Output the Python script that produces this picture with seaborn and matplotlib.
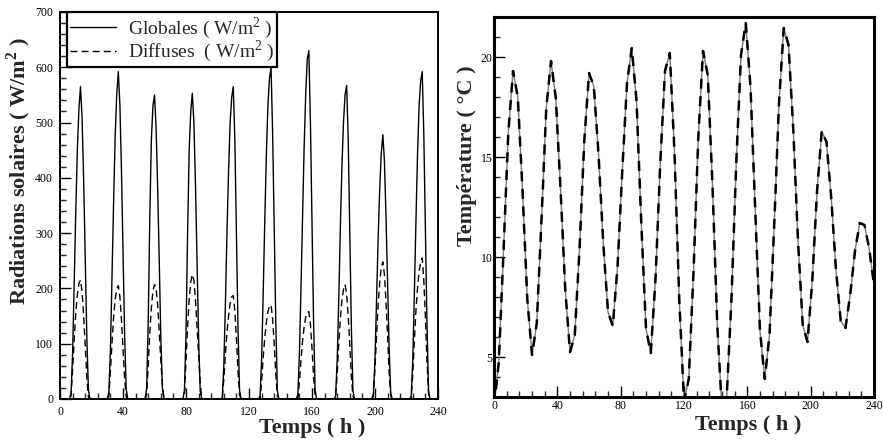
import numpy as np
import pandas as pd
import seaborn as sns
import matplotlib.pyplot as plt
from matplotlib.ticker import MultipleLocator


# heures de jour (7h -> 18h) pour chaque journée
heures_jour = list(range(7, 19))

globales_jours = [
    [11, 85, 215, 340, 452, 525, 565, 508, 395, 254, 113, 17],
    [12, 89, 225, 355, 474, 551, 592, 533, 414, 266, 118, 18],
    [20, 140, 330, 470, 530, 550, 490, 380, 250, 110, 20, 0],
    [15, 120, 300, 450, 520, 553, 500, 390, 250, 110, 15, 0],
    [0, 60, 170, 300, 410, 500, 545, 565, 470, 300, 130, 15],
    [5, 70, 190, 320, 440, 530, 580, 600, 480, 310, 140, 15],
    [8, 80, 200, 330, 455, 550, 615, 630, 500, 320, 140, 15],
    [5, 70, 180, 310, 420, 500, 550, 567, 470, 300, 130, 15],
    [10, 70, 180, 290, 380, 445, 478, 430, 330, 210, 90, 10],
    [5, 70, 190, 320, 440, 530, 575, 592, 480, 310, 140, 15],
]

diffuses_jours = [
    [6, 54, 108, 155, 189, 209, 215, 194, 150, 97, 39, 4],
    [6, 51, 102, 148, 180, 199, 205, 185, 144, 92, 37, 4],
    [8, 60, 120, 165, 195, 207, 200, 170, 120, 70, 25, 0],
    [10, 70, 130, 180, 212, 225, 215, 180, 130, 80, 30, 0],
    [0, 35, 80, 120, 150, 172, 185, 187, 160, 110, 50, 8],
    [0, 30, 75, 110, 138, 158, 168, 170, 145, 100, 45, 6],
    [0, 30, 70, 105, 130, 148, 156, 158, 135, 92, 40, 5],
    [5, 45, 100, 145, 178, 198, 207, 190, 150, 98, 40, 5],
    [5, 55, 115, 170, 210, 238, 248, 225, 175, 115, 48, 6],
    [0, 45, 105, 160, 200, 230, 248, 255, 215, 150, 70, 10],
]

# température toutes les 3 heures, de 0 à 240 h
temps_temp = list(range(0, 241, 3))
temperature = [
    2.5, 4.75, 10.3, 16.2, 19.3, 18.0, 13.3, 7.9, 5.1, 6.7, 11.9, 17.45, 19.8,
    17.95, 13.4, 8.35, 5.25, 6.1, 10.4, 15.8, 19.2, 18.55, 15.15, 10.65, 7.25,
    6.55, 9.5, 14.3, 18.7, 20.45, 17.8, 11.7, 6.4, 5.2, 8.9, 14.7, 19.3, 20.2,
    15.2, 7.85, 2.8, 3.9, 9.25, 15.95, 20.3, 19.1, 13.55, 6.6, 2.3, 3.05, 7.95,
    14.7, 20.1, 21.7, 18.5, 12.3, 6.3, 3.9, 6.1, 11.65, 17.7, 21.45, 20.6, 16.4,
    10.8, 6.6, 5.75, 8.8, 13.25, 16.3, 15.75, 12.95, 9.35, 6.8, 6.45, 8.15,
    10.3, 11.7, 11.6, 10.4, 8.6,
]


def serie_horaire(jours):
    # nuit = 0, on place les valeurs lues pour chaque journée
    valeurs = np.zeros(241)
    for k, jour in enumerate(jours):
        for h, v in zip(heures_jour, jour):
            valeurs[24 * k + h] = v
    return valeurs


rad = pd.DataFrame({
    'temps': np.arange(241),
    'globales': serie_horaire(globales_jours),
    'diffuses': serie_horaire(diffuses_jours),
})
temp = pd.DataFrame({'temps': temps_temp, 'temperature': temperature})

sns.set_style('ticks')
plt.rcParams['font.family'] = ['Liberation Serif', 'DejaVu Serif']
plt.rcParams['mathtext.fontset'] = 'custom'
plt.rcParams['mathtext.rm'] = 'Liberation Serif'
plt.rcParams['mathtext.bf'] = 'Liberation Serif:bold'

fig = plt.figure(figsize=(8.83, 4.42), dpi=100)
ax1 = fig.add_axes([0.068, 0.0973, 0.428, 0.8756])
ax2 = fig.add_axes([0.5595, 0.1018, 0.4303, 0.8597])

# --- radiations
sns.lineplot(data=rad, x='temps', y='globales', ax=ax1, color='black',
             linewidth=1, label='Globales ( W/m$^{\\mathregular{2}}$ )')
sns.lineplot(data=rad, x='temps', y='diffuses', ax=ax1, color='black',
             linewidth=1, linestyle=(0, (5, 3)),
             label='Diffuses  ( W/m$^{\\mathregular{2}}$ )')
ax1.set_xlim(0, 240)
ax1.set_ylim(0, 700)
ax1.yaxis.set_major_locator(MultipleLocator(100))
ax1.yaxis.set_minor_locator(MultipleLocator(20))

leg = ax1.legend(loc='upper left', bbox_to_anchor=(0.018, 1.0), borderaxespad=0,
                 fancybox=False, edgecolor='black', framealpha=1, fontsize=14,
                 handlelength=2.4, handletextpad=0.6, borderpad=0.15,
                 labelspacing=-0.1)
leg.get_frame().set_linewidth(1.6)

ax1.set_ylabel('Radiations solaires ( W/m$^{\\mathbf{2}}$ )',
               fontsize=16, fontweight='bold')
ax1.yaxis.set_label_coords(-0.071, 0.59)

# --- température
sns.lineplot(data=temp, x='temps', y='temperature', ax=ax2, color='#777777',
             linewidth=1)
sns.lineplot(data=temp, x='temps', y='temperature', ax=ax2, color='black',
             linewidth=1.8, linestyle=(0, (4, 3)))
ax2.set_xlim(0, 240)
ax2.set_ylim(3, 22)
ax2.yaxis.set_major_locator(MultipleLocator(5))
ax2.yaxis.set_minor_locator(MultipleLocator(1))
ax2.set_ylabel('Température ( °C )', fontsize=16, fontweight='bold')
ax2.yaxis.set_label_coords(-0.045, 0.634)

for ax, lw, ly, xpad, ypad in [(ax1, 1.4, -0.05, 5, 5),
                               (ax2, 2.2, -0.047, 2.5, 1)]:
    ax.xaxis.set_major_locator(MultipleLocator(40))
    ax.xaxis.set_minor_locator(MultipleLocator(8))
    ax.set_xlabel('Temps ( h )', fontsize=16, fontweight='bold')
    ax.xaxis.set_label_coords(0.668, ly)
    ax.tick_params(which='major', direction='in', length=8, width=1,
                   labelsize=8.5, colors='black')
    ax.tick_params(axis='x', which='major', pad=xpad)
    ax.tick_params(axis='y', which='major', pad=ypad)
    ax.tick_params(which='minor', direction='in', length=4, width=1)
    for s in ax.spines.values():
        s.set_visible(True)
        s.set_linewidth(lw)
        s.set_color('black')

fig.savefig('out.png', dpi=100, facecolor='white')
